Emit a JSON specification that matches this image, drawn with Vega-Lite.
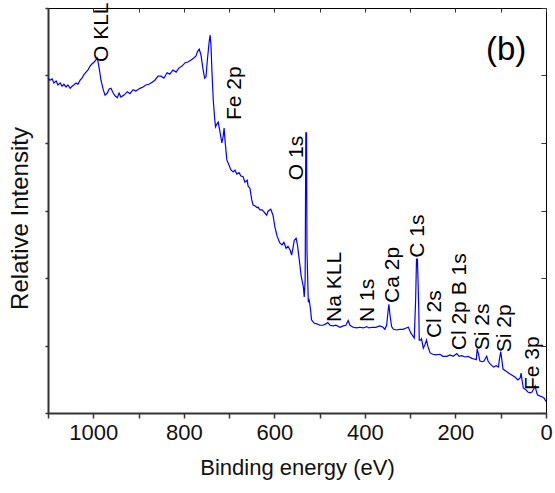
{
  "$schema": "https://vega.github.io/schema/vega-lite/v6.json",
  "width": 498,
  "height": 405,
  "autosize": "none",
  "padding": {"left": 48, "top": 8, "right": 9, "bottom": 80},
  "background": "white",
  "config": {
    "view": {"stroke": "#000", "strokeWidth": 1},
    "font": "Liberation Sans",
    "axis": {"grid": false, "labelFont": "Liberation Sans", "titleFont": "Liberation Sans", "titleFontWeight": "normal", "labelColor": "#111", "titleColor": "#111"}
  },
  "datasets": {
    "spectrum": [
      {"E":1100,"I":4.96},{"E":1096,"I":4.93},{"E":1091,"I":4.95},{"E":1087,"I":4.89},{"E":1082,"I":4.92},{"E":1078,"I":4.86},{"E":1073,"I":4.89},{"E":1069,"I":4.84},{"E":1065,"I":4.87},{"E":1060,"I":4.83},{"E":1056,"I":4.86},{"E":1051,"I":4.81},{"E":1047,"I":4.84},{"E":1043,"I":4.86},{"E":1038,"I":4.89},{"E":1034,"I":4.87},{"E":1029,"I":4.93},{"E":1025,"I":4.96},{"E":1021,"I":5.01},{"E":1016,"I":5.05},{"E":1012,"I":5.08},{"E":1007,"I":5.14},{"E":1003,"I":5.17},{"E":998,"I":5.2},{"E":994,"I":5.23},{"E":991,"I":5.26},{"E":987,"I":5.11},{"E":983,"I":4.93},{"E":978,"I":4.79},{"E":974,"I":4.71},{"E":969,"I":4.74},{"E":965,"I":4.8},{"E":961,"I":4.81},{"E":956,"I":4.74},{"E":952,"I":4.7},{"E":947,"I":4.67},{"E":943,"I":4.74},{"E":939,"I":4.68},{"E":932,"I":4.71},{"E":925,"I":4.76},{"E":919,"I":4.73},{"E":912,"I":4.79},{"E":906,"I":4.77},{"E":897,"I":4.81},{"E":890,"I":4.83},{"E":884,"I":4.86},{"E":877,"I":4.87},{"E":870,"I":4.9},{"E":864,"I":4.93},{"E":857,"I":4.99},{"E":850,"I":4.99},{"E":844,"I":4.96},{"E":837,"I":5.04},{"E":831,"I":5.02},{"E":824,"I":5.08},{"E":817,"I":5.05},{"E":811,"I":5.11},{"E":804,"I":5.14},{"E":797,"I":5.19},{"E":791,"I":5.2},{"E":784,"I":5.23},{"E":778,"I":5.26},{"E":773,"I":5.29},{"E":770,"I":5.35},{"E":766,"I":5.39},{"E":762,"I":5.3},{"E":758,"I":5.11},{"E":754,"I":4.96},{"E":751,"I":4.98},{"E":748,"I":5.23},{"E":744,"I":5.5},{"E":742,"I":5.6},{"E":740,"I":5.45},{"E":738,"I":5.08},{"E":735,"I":4.64},{"E":732,"I":4.37},{"E":730,"I":4.24},{"E":727,"I":4.28},{"E":724,"I":4.31},{"E":720,"I":4.16},{"E":716,"I":4.0},{"E":713,"I":4.1},{"E":711,"I":4.22},{"E":709,"I":4.04},{"E":705,"I":3.75},{"E":700,"I":3.67},{"E":696,"I":3.6},{"E":691,"I":3.57},{"E":687,"I":3.6},{"E":683,"I":3.54},{"E":678,"I":3.56},{"E":674,"I":3.51},{"E":669,"I":3.5},{"E":665,"I":3.42},{"E":660,"I":3.45},{"E":658,"I":3.36},{"E":654,"I":3.33},{"E":650,"I":3.16},{"E":647,"I":3.08},{"E":643,"I":3.07},{"E":638,"I":3.04},{"E":636,"I":3.05},{"E":632,"I":3.01},{"E":627,"I":3.01},{"E":623,"I":2.98},{"E":617,"I":2.93},{"E":614,"I":2.99},{"E":608,"I":3.02},{"E":603,"I":2.93},{"E":599,"I":2.76},{"E":594,"I":2.62},{"E":588,"I":2.52},{"E":583,"I":2.49},{"E":579,"I":2.53},{"E":574,"I":2.44},{"E":570,"I":2.47},{"E":565,"I":2.41},{"E":562,"I":2.34},{"E":559,"I":2.44},{"E":556,"I":2.56},{"E":552,"I":2.59},{"E":549,"I":2.49},{"E":545,"I":2.27},{"E":541,"I":2.04},{"E":536,"I":1.87},{"E":534,"I":1.72},{"E":532,"I":1.97},{"E":530.5,"I":4.15},{"E":529,"I":4.15},{"E":528,"I":2.41},{"E":525,"I":1.64},{"E":523,"I":1.67},{"E":520,"I":1.53},{"E":518,"I":1.38},{"E":512,"I":1.33},{"E":506,"I":1.32},{"E":499,"I":1.3},{"E":493,"I":1.3},{"E":486,"I":1.32},{"E":482,"I":1.34},{"E":477,"I":1.3},{"E":470,"I":1.29},{"E":464,"I":1.3},{"E":455,"I":1.27},{"E":448,"I":1.29},{"E":442,"I":1.3},{"E":437,"I":1.37},{"E":433,"I":1.3},{"E":426,"I":1.27},{"E":418,"I":1.26},{"E":411,"I":1.27},{"E":404,"I":1.26},{"E":396,"I":1.28},{"E":391,"I":1.26},{"E":384,"I":1.27},{"E":376,"I":1.27},{"E":367,"I":1.29},{"E":360,"I":1.27},{"E":356,"I":1.24},{"E":352,"I":1.3},{"E":349,"I":1.5},{"E":347,"I":1.61},{"E":345,"I":1.47},{"E":341,"I":1.28},{"E":337,"I":1.24},{"E":330,"I":1.23},{"E":323,"I":1.24},{"E":316,"I":1.24},{"E":309,"I":1.26},{"E":304,"I":1.27},{"E":299,"I":1.19},{"E":293,"I":1.13},{"E":291,"I":1.11},{"E":288,"I":1.67},{"E":286,"I":2.28},{"E":284,"I":2.28},{"E":281,"I":1.53},{"E":280,"I":1.08},{"E":277,"I":1.08},{"E":275,"I":1.1},{"E":271,"I":0.96},{"E":267,"I":1.02},{"E":264,"I":1.08},{"E":261,"I":0.99},{"E":256,"I":0.89},{"E":250,"I":0.87},{"E":243,"I":0.86},{"E":234,"I":0.87},{"E":228,"I":0.84},{"E":219,"I":0.84},{"E":212,"I":0.86},{"E":205,"I":0.84},{"E":197,"I":0.88},{"E":192,"I":0.84},{"E":186,"I":0.85},{"E":179,"I":0.83},{"E":172,"I":0.84},{"E":164,"I":0.81},{"E":159,"I":0.8},{"E":154,"I":0.79},{"E":152,"I":0.95},{"E":149,"I":0.87},{"E":146,"I":0.77},{"E":141,"I":0.76},{"E":137,"I":0.77},{"E":131,"I":0.84},{"E":128,"I":0.77},{"E":124,"I":0.73},{"E":116,"I":0.68},{"E":110,"I":0.7},{"E":105,"I":0.68},{"E":103,"I":0.79},{"E":100,"I":0.91},{"E":97,"I":0.76},{"E":95,"I":0.65},{"E":88,"I":0.62},{"E":82,"I":0.59},{"E":75,"I":0.56},{"E":68,"I":0.53},{"E":62,"I":0.49},{"E":57,"I":0.52},{"E":55,"I":0.59},{"E":53,"I":0.49},{"E":50,"I":0.37},{"E":44,"I":0.34},{"E":40,"I":0.31},{"E":35,"I":0.3},{"E":31,"I":0.31},{"E":27,"I":0.36},{"E":24,"I":0.4},{"E":22,"I":0.34},{"E":19,"I":0.27},{"E":13,"I":0.25},{"E":9,"I":0.24},{"E":4,"I":0.22},{"E":0,"I":0.17}
    ],
    "labels": [
      {"E":981,"I":5.2,"label":"O KLL"},
      {"E":687,"I":4.34,"label":"Fe 2p"},
      {"E":551,"I":3.45,"label":"O 1s"},
      {"E":466,"I":1.35,"label":"Na KLL"},
      {"E":393,"I":1.35,"label":"N 1s"},
      {"E":338,"I":1.63,"label":"Ca 2p"},
      {"E":283,"I":2.3,"label":"C 1s"},
      {"E":245,"I":1.11,"label":"Cl 2s"},
      {"E":190,"I":0.93,"label":"Cl 2p B 1s"},
      {"E":139,"I":0.93,"label":"Si 2s"},
      {"E":91,"I":0.9,"label":"Si 2p"},
      {"E":29,"I":0.34,"label":"Fe 3p"}
    ],
    "panel": [{"E":88,"I":5.38,"label":"(b)"}]
  },
  "layer": [
    {
      "data": {"name": "spectrum"},
      "mark": {"type": "line", "color": "#0000ff", "strokeWidth": 1.2},
      "encoding": {
        "x": {"field": "E", "type": "quantitative",
          "scale": {"domain": [0, 1100], "reverse": true, "nice": false, "zero": false},
          "axis": {"orient": "bottom", "values": [0,100,200,300,400,500,600,700,800,900,1000,1100],
            "labelExpr": "datum.value % 200 == 0 ? datum.label : ''", "format": "d",
            "tickSize": 5, "tickColor": "#333", "tickWidth": 1.5, "domainColor": "#333", "domainWidth": 2,
            "labelFontSize": 22, "labelPadding": 4, "labelFlush": false, "labelOverlap": false,
            "title": "Binding energy (eV)", "titleFontSize": 22, "titlePadding": 14}},
        "y": {"field": "I", "type": "quantitative",
          "scale": {"domain": [0, 6], "nice": false, "zero": false},
          "axis": {"orient": "left", "values": [0,1,2,3,4,5,6], "labels": false,
            "tickSize": 3, "tickColor": "#333", "tickWidth": 1.5, "domainColor": "#333", "domainWidth": 2,
            "title": "Relative Intensity", "titleFontSize": 24, "titlePadding": 12, "titleY": 210}}
      }
    },
    {
      "data": {"name": "labels"},
      "mark": {"type": "text", "angle": 270, "align": "left", "baseline": "middle", "fontSize": 21, "color": "#000"},
      "encoding": {
        "x": {"field": "E", "type": "quantitative",
          "axis": {"orient": "top", "values": [0,100,200,300,400,500,600,700,800,900,1000,1100], "labels": false,
            "domain": false, "tickSize": -4, "tickColor": "#333", "tickWidth": 1, "title": null}},
        "y": {"field": "I", "type": "quantitative",
          "axis": {"orient": "right", "values": [0,1,2,3,4,5,6], "labels": false,
            "domain": false, "tickSize": -5, "tickColor": "#333", "tickWidth": 1, "title": null}},
        "text": {"field": "label"}
      }
    },
    {
      "data": {"name": "panel"},
      "mark": {"type": "text", "align": "center", "baseline": "middle", "fontSize": 33, "color": "#000"},
      "encoding": {
        "x": {"field": "E", "type": "quantitative", "axis": null},
        "y": {"field": "I", "type": "quantitative", "axis": null},
        "text": {"field": "label"}
      }
    }
  ],
  "resolve": {"axis": {"x": "independent", "y": "independent"}}
}
